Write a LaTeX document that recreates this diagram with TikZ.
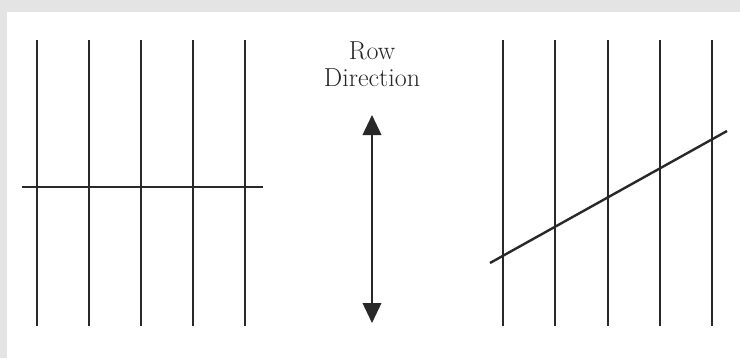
\documentclass[tikz,border=0pt]{standalone}
\usepackage{tikz}
\usetikzlibrary{positioning,arrows.meta}
\definecolor{frameGray}{RGB}{228,228,228}
\definecolor{lineInk}{RGB}{40,40,40}

\begin{document}
\begin{tikzpicture}[x=0.75pt,y=-0.75pt,
  row/.style={draw=lineInk,line width=1.8pt},
  cut/.style={draw=lineInk,line width=1.8pt},
  dir/.style={draw=lineInk,line width=1.2pt,{Triangle[length=15pt,width=14pt]}-{Triangle[length=15pt,width=14pt]}},
  lbl/.style={font=\fontsize{19.5}{20.5}\selectfont,align=center,text=black!85,inner sep=0pt}]
% frame
\fill[frameGray] (0,0) rectangle (740,358);
\fill[white] (7,12) rectangle (740,358);
\useasboundingbox (0,0) rectangle (740,358);
% left panel
\foreach \x in {37,89,141,193,245} {
  \draw[row] (\x,40) -- (\x,326);
}
\coordinate (hl) at (22,187);
\coordinate (hr) at (263,187);
\draw[cut] (hl) -- (hr);
% middle
\node[lbl] (rowdir) at (372,64) {Row\\Direction};
\coordinate (atop) at (372,115);
\coordinate (abot) at (372,323);
\draw[dir] (atop) -- (abot);
% right panel
\foreach \x in {503,555,608,660,712} {
  \draw[row] (\x,40) -- (\x,326);
}
\coordinate (dl) at (490,263);
\coordinate (dr) at (727,131);
\draw[cut] (dl) -- (dr);
\end{tikzpicture}
\end{document}
